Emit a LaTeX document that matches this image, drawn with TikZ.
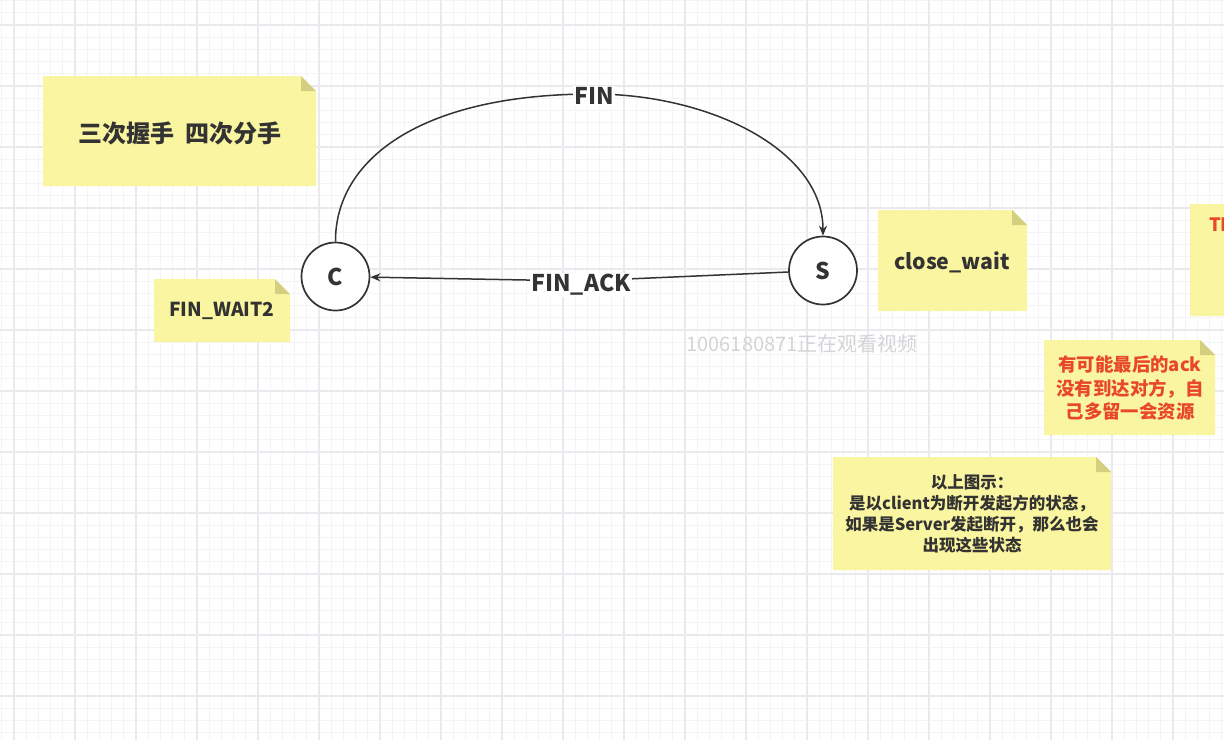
\documentclass[tikz,border=0pt]{standalone}
\usepackage{fontspec}
\setmainfont{Noto Sans CJK SC}
\usetikzlibrary{arrows.meta}
\definecolor{gridmajor}{HTML}{E9E9EE}
\definecolor{gridminor}{HTML}{F4F4F7}
\definecolor{notey}{HTML}{FAF5A0}
\definecolor{notefold}{HTML}{D4CF80}
\definecolor{ink}{HTML}{333333}
\definecolor{redink}{HTML}{E8472B}
\definecolor{wm}{HTML}{D4D4D8}
\newcommand\stickynote[4]{%
  \fill[notey] (#1,#2) -- ({#3-15},#2) -- (#3,{#2+15}) -- (#3,#4) -- (#1,#4) -- cycle;
  \fill[notefold] ({#3-15},#2) -- ({#3-15},{#2+15}) -- (#3,{#2+15}) -- cycle;}
\begin{document}
\begin{tikzpicture}[x=1pt,y=-1pt,
  statenode/.style={circle,draw=ink,line width=1.7pt,fill=white,minimum size=68pt,inner sep=0pt,
    font=\bfseries\fontsize{23}{26}\selectfont,text=ink},
  conn/.style={draw=ink,line width=1.5pt,-{Stealth[length=10pt,width=8pt]}},
  lbl/.style={fill=white,inner sep=1.5pt,font=\bfseries\fontsize{23}{26}\selectfont,text=ink},
  darktxt/.style={align=center,text=ink,inner sep=0pt},
  redtxt/.style={align=center,text=redink,inner sep=0pt,font=\bfseries\fontsize{18.4}{23.5}\selectfont},
]
\useasboundingbox (0,0) rectangle (1224,740);
\clip (0,0) rectangle (1224,740);
\fill[white] (0,0) rectangle (1224,740);
% grid
\foreach \k in {0,...,100} \draw[gridminor,line width=0.8pt] ({1.8+12.2*\k},0) -- ({1.8+12.2*\k},740);
\foreach \k in {0,...,61} \draw[gridminor,line width=0.8pt] (0,{0.6+12.2*\k}) -- (1224,{0.6+12.2*\k});
\foreach \k in {0,...,20} \draw[gridmajor,line width=1.2pt] ({14+61*\k},0) -- ({14+61*\k},740);
\foreach \k in {0,...,12} \draw[gridmajor,line width=1.2pt] (0,{25+61*\k}) -- (1224,{25+61*\k});

% notes
\stickynote{43}{76}{316}{186}
\node[darktxt,font=\bfseries\fontsize{24}{28}\selectfont] (title) at (180,133) {三次握手\ \ 四次分手};

\stickynote{154}{279}{290}{342}
\node[darktxt,font=\bfseries\fontsize{19.2}{22}\selectfont] (finwait) at (222,311) {FIN\_WAIT2};

\stickynote{878}{210}{1027}{311}
\node[darktxt,font=\bfseries\fontsize{21.3}{25}\selectfont] (closewait) at (952,262) {close\_wait};

\stickynote{1190}{204}{1340}{316}
\node[redtxt,anchor=west] (timewait) at (1209,226) {TIME\_WAIT};

\stickynote{1044}{340}{1215}{435}
\node[redtxt] (lastack) at (1130,388) {有可能最后的ack\\没有到达对方，自\\己多留一会资源};

\stickynote{833}{457}{1111}{570}
\node[darktxt,font=\bfseries\fontsize{16.5}{21}\selectfont] (remark) at (972,514)
  {以上图示：\\是以client为断开发起方的状态，\\如果是Server发起断开，那么也会\\出现这些状态};

% states
\node[statenode] (C) at (335.5,276.5) {C};
\node[statenode] (S) at (823,270.5) {S};

% FIN arc
\draw[conn] (C.north) .. controls (335,160) and (420,94) .. (593,94)
  .. controls (710,94) and (823,150) .. (S.north);
\node[lbl] (finlbl) at (594,96) {FIN};

% FIN_ACK
\coordinate (ackpt) at (581,281);
\draw[conn] (S) -- (ackpt) -- (C);
\node[lbl] (acklbl) at (581,285) {FIN\_ACK};

% watermark
\node[text=wm,inner sep=0pt,font=\fontsize{20}{23}\selectfont] (wmark) at (802,344) {1006180871正在观看视频};
\end{tikzpicture}
\end{document}
